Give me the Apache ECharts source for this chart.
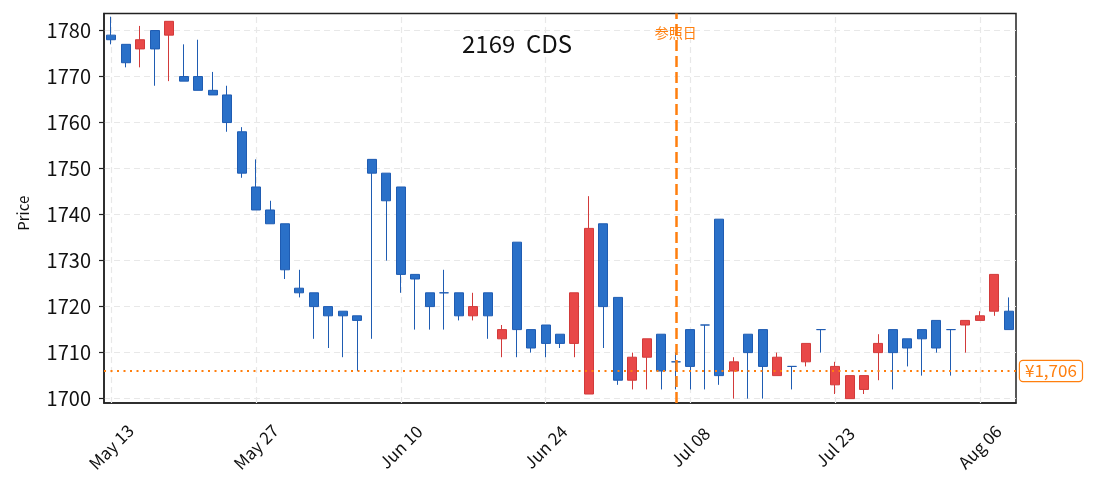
<!DOCTYPE html>
<html>
<head>
<meta charset="utf-8">
<title>2169 CDS</title>
<script src="https://cdn.jsdelivr.net/npm/echarts@6.0.0/dist/echarts.min.js"></script>
<style>html,body{margin:0;padding:0;background:#fff;}</style>
</head>
<body>
<div id="main" style="width:1095px;height:492px;"></div>
<script type="text/javascript">
// 取引日
var dates = [
    'May 13', 'May 14', 'May 15', 'May 16', 'May 17', 'May 20', 'May 21', 'May 22', 'May 23', 'May 24',
    'May 27', 'May 28', 'May 29', 'May 30', 'May 31', 'Jun 03', 'Jun 04', 'Jun 05', 'Jun 06', 'Jun 07',
    'Jun 10', 'Jun 11', 'Jun 12', 'Jun 13', 'Jun 14', 'Jun 17', 'Jun 18', 'Jun 19', 'Jun 20', 'Jun 21',
    'Jun 24', 'Jun 25', 'Jun 26', 'Jun 27', 'Jun 28', 'Jul 01', 'Jul 02', 'Jul 03', 'Jul 04', 'Jul 05',
    'Jul 08', 'Jul 09', 'Jul 10', 'Jul 11', 'Jul 12', 'Jul 16', 'Jul 17', 'Jul 18', 'Jul 19', 'Jul 22',
    'Jul 23', 'Jul 24', 'Jul 25', 'Jul 26', 'Jul 29', 'Jul 30', 'Jul 31', 'Aug 01', 'Aug 02', 'Aug 05',
    'Aug 06', 'Aug 07', 'Aug 08'
];
var opens = [
    1779, 1777, 1776, 1780, 1779, 1770, 1770, 1767, 1766, 1758,
    1746, 1741, 1738, 1724, 1723, 1720, 1719, 1718, 1752, 1749,
    1746, 1727, 1723, 1723, 1723, 1718, 1723, 1713, 1734, 1715,
    1716, 1714, 1712, 1701, 1738, 1722, 1704, 1709, 1714, 1708,
    1715, 1716, 1739, 1706, 1714, 1715, 1705, 1707, 1708, 1715,
    1703, 1700, 1702, 1710, 1715, 1713, 1715, 1717, 1715, 1716,
    1717, 1719, 1719
];
var closes = [
    1778, 1773, 1778, 1776, 1782, 1769, 1767, 1766, 1760, 1749,
    1741, 1738, 1728, 1723, 1720, 1718, 1718, 1717, 1749, 1743,
    1727, 1726, 1720, 1723, 1718, 1720, 1718, 1715, 1715, 1711,
    1712, 1712, 1723, 1737, 1720, 1704, 1709, 1713, 1706, 1708,
    1707, 1716, 1705, 1708, 1710, 1707, 1709, 1707, 1712, 1715,
    1707, 1705, 1705, 1712, 1710, 1711, 1713, 1711, 1715, 1717,
    1718, 1727, 1715
];
var lows = [
    1777, 1772, 1772, 1768, 1769, 1769, 1767, 1766, 1758, 1748,
    1741, 1738, 1726, 1722, 1713, 1711, 1709, 1706, 1713, 1730,
    1723, 1715, 1715, 1715, 1717, 1717, 1713, 1709, 1709, 1710,
    1709, 1711, 1709, 1701, 1711, 1703, 1702, 1702, 1702, 1702,
    1702, 1702, 1703, 1700, 1700, 1700, 1705, 1702, 1707, 1710,
    1701, 1700, 1701, 1704, 1702, 1707, 1705, 1710, 1705, 1710,
    1717, 1718, 1715
];
var highs = [
    1783, 1777, 1781, 1780, 1782, 1777, 1778, 1771, 1768, 1759,
    1752, 1743, 1738, 1728, 1723, 1720, 1719, 1718, 1752, 1749,
    1746, 1727, 1723, 1728, 1723, 1723, 1723, 1716, 1734, 1715,
    1716, 1714, 1723, 1744, 1738, 1722, 1710, 1713, 1714, 1710,
    1715, 1716, 1739, 1709, 1714, 1715, 1710, 1707, 1712, 1715,
    1708, 1705, 1705, 1714, 1715, 1713, 1715, 1717, 1715, 1717,
    1719, 1727, 1722
];
var xTickDates = ['May 13', 'May 27', 'Jun 10', 'Jun 24', 'Jul 08', 'Jul 23', 'Aug 06'];
var yTicks = [1700, 1710, 1720, 1730, 1740, 1750, 1760, 1770, 1780];
var refDate = 'Jul 05';
var refPrice = 1706;

var FONT = "'Noto Sans CJK JP', 'Noto Sans', sans-serif";
var ORANGE = '#ff7f0e';
var BLUE = '#2a70c8', BLUE_B = '#1f5cb2';
var RED = '#e84848', RED_B = '#d23a3a';

var kData = [];
for (var i = 0; i < dates.length; i++) {
    var item = { value: [opens[i], closes[i], lows[i], highs[i]] };
    if (opens[i] === closes[i]) {
        // 同値は陰線色
        item.itemStyle = { color: BLUE, color0: BLUE, borderColor: BLUE_B, borderColor0: BLUE_B, borderColorDoji: BLUE_B };
    }
    kData.push(item);
}

var myChart = echarts.init(document.getElementById('main'));

myChart.setOption({
    animation: false,
    backgroundColor: '#fff',
    textStyle: { fontFamily: FONT },
    title: {
        text: '2169  CDS',
        left: 457,
        top: 27,
        textStyle: { fontFamily: FONT, fontSize: 24, fontWeight: 'normal', color: '#111' }
    },
    grid: {
        left: 104, right: 79, top: 13.5, bottom: 89,
        show: true, borderColor: '#222', borderWidth: 1.5
    },
    xAxis: {
        type: 'category',
        data: dates,
        boundaryGap: true,
        axisLine: { lineStyle: { color: '#222', width: 1.5 } },
        axisTick: { interval: 9, alignWithLabel: true, length: 5, lineStyle: { color: '#222', width: 1.2 } },
        axisLabel: {
            interval: 9, rotate: 45, align: 'center', verticalAlign: 'middle', margin: 44,
            fontSize: 17, color: '#111', fontFamily: FONT
        },
        splitLine: { show: false }
    },
    yAxis: {
        type: 'value',
        min: 1699.05,
        max: 1783.7,
        name: 'Price',
        nameLocation: 'middle',
        nameGap: 73,
        nameTextStyle: { fontSize: 15, color: '#111', fontFamily: FONT, padding: [0, 10, 0, 0] },
        axisLine: { show: true, lineStyle: { color: '#222', width: 1.5 } },
        axisTick: { show: true, customValues: yTicks, length: 5, lineStyle: { color: '#222', width: 1.2 } },
        axisLabel: {
            customValues: yTicks, fontSize: 20, color: '#111', margin: 13, fontFamily: FONT,
            formatter: function (v) { return String(v); }
        },
        splitLine: { show: true, lineStyle: { color: '#e8e8e8', type: [6, 4], width: 1.2 } }
    },
    series: [
        {
            // 縦グリッド線
            type: 'line',
            data: [],
            z: 1,
            silent: true,
            markLine: {
                silent: true,
                z: 1,
                symbol: 'none',
                label: { show: false },
                lineStyle: { color: '#e8e8e8', type: [6, 4], width: 1.2 },
                data: xTickDates.map(function (d) { return { xAxis: d }; })
            }
        },
        {
            type: 'candlestick',
            data: kData,
            z: 2,
            barWidth: 9.5,
            itemStyle: {
                color: RED, color0: BLUE,
                borderColor: RED_B, borderColor0: BLUE_B, borderColorDoji: BLUE_B,
                borderWidth: 1
            },
            markLine: {
                silent: true,
                symbol: 'none',
                data: [
                    {
                        xAxis: refDate,
                        lineStyle: { color: ORANGE, type: [11, 5], width: 2.5 },
                        label: { show: false }
                    },
                    {
                        yAxis: refPrice,
                        lineStyle: { color: ORANGE, type: [2, 4.5], width: 2 },
                        label: {
                            show: true, position: 'end', distance: 4,
                            formatter: '¥1,706',
                            color: ORANGE, fontSize: 17, fontFamily: FONT,
                            backgroundColor: '#fff', borderColor: ORANGE, borderWidth: 1.2,
                            borderRadius: 3, padding: [2, 5, 1, 5]
                        }
                    }
                ]
            },
            markPoint: {
                silent: true,
                symbol: 'circle',
                symbolSize: 0,
                data: [{ coord: [refDate, 1783.7] }],
                label: {
                    show: true, position: 'inside', offset: [0, 19],
                    formatter: '参照日', color: ORANGE, fontSize: 14, fontFamily: FONT
                }
            }
        }
    ]
});
</script>
</body>
</html>
